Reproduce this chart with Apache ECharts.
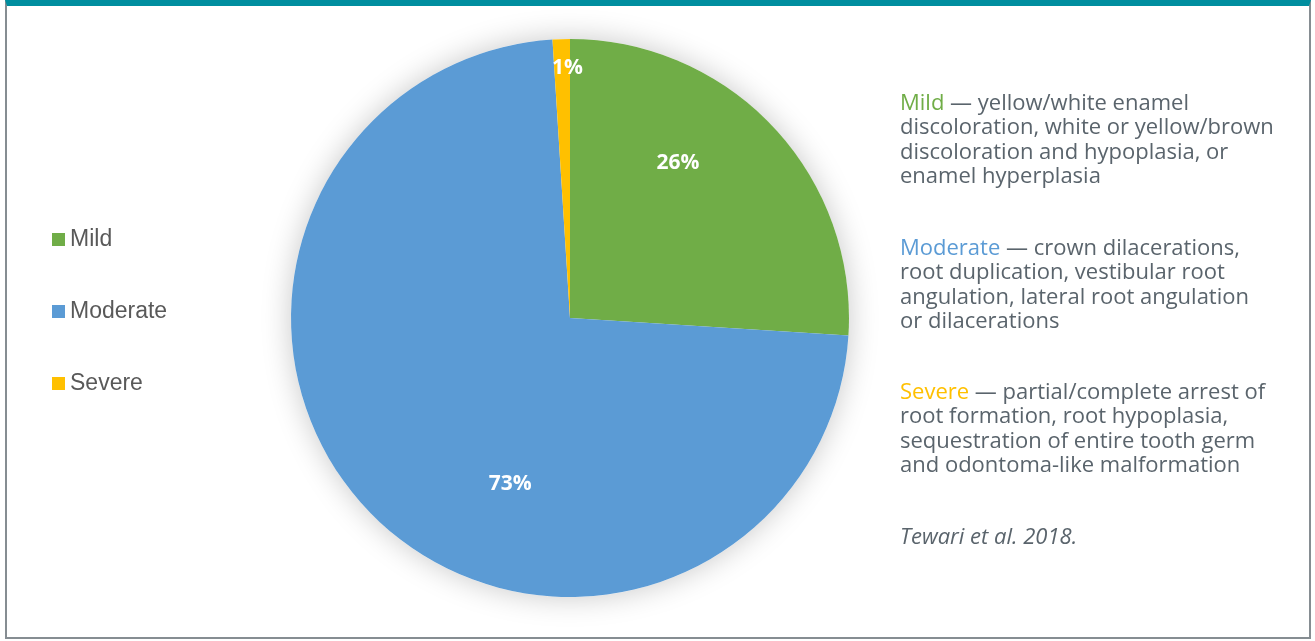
<!DOCTYPE html>
<html>
<head>
<meta charset="utf-8">
<script src="https://cdn.jsdelivr.net/npm/echarts@6/dist/echarts.min.js"></script>
<style>
  html, body { margin: 0; padding: 0; background: #fff; }
  #frame {
    position: absolute; left: 5px; top: 0; width: 1306px; height: 639px;
    border-left: 2px solid #868d92; border-right: 2px solid #868d92; border-bottom: 2px solid #868d92;
    border-top: 6px solid #008e9f; box-sizing: border-box;
  }
  #chart { position: absolute; left: 0; top: 0; width: 1315px; height: 641px; }
</style>
</head>
<body>
<div id="frame"></div>
<div id="chart"></div>
<script>
(function() {
  var categories = ['Mild', 'Moderate', 'Severe'];
  var shares = [26, 73, 1];
  var colors = ['#70ad47', '#5b9bd5', '#ffc000'];
  var notes = [
    '\u2014 yellow/white enamel\ndiscoloration, white or yellow/brown\ndiscoloration and hypoplasia, or\nenamel hyperplasia',
    '\u2014 crown dilacerations,\nroot duplication, vestibular root\nangulation, lateral root angulation\nor dilacerations',
    '\u2014 partial/complete arrest of\nroot formation, root hypoplasia,\nsequestration of entire tooth germ\nand odontoma-like malformation'
  ];
  var source = 'Tewari et al. 2018.';

  // label nudges from the default "inside" spot
  var labelShift = [[4, -57], [41, 65], [2, -108]];
  var noteTops = [91, 236, 380];

  var textColor = '#5a646c';
  var noteFont = '"Open Sans", Lato, sans-serif';

  var chart = echarts.init(document.getElementById('chart'), null, { renderer: 'canvas' });

  var graphics = categories.map(function(name, i) {
    return {
      type: 'text', left: 900, top: noteTops[i], silent: true,
      style: {
        text: '{h|' + name + '} ' + notes[i],
        rich: {
          h: { fill: colors[i], font: '22px ' + noteFont, lineHeight: 24.5 }
        },
        fill: textColor, font: '22px ' + noteFont, lineHeight: 24.5
      }
    };
  });
  graphics.push({
    type: 'text', left: 900, top: 527, silent: true,
    style: { text: source, fill: textColor, font: 'italic 22px ' + noteFont }
  });

  chart.setOption({
    animation: false,
    color: colors,
    legend: {
      orient: 'vertical', left: 47, top: 223, itemGap: 49,
      itemWidth: 13, itemHeight: 13, icon: 'rect',
      textStyle: { color: '#595959', fontSize: 23, fontFamily: '"Liberation Sans", "Noto Sans", sans-serif' },
      data: categories
    },
    graphic: graphics,
    series: [{
      type: 'pie', silent: true, z: 1,
      center: [570, 318], radius: 279,
      label: { show: false }, labelLine: { show: false },
      itemStyle: { color: '#fff', shadowBlur: 30, shadowColor: 'rgba(0,0,0,0.22)' },
      data: [{ value: 1, name: '_bg' }]
    }, {
      type: 'pie', z: 2,
      center: [570, 318], radius: 279,
      startAngle: 90, clockwise: true,
      label: {
        show: true, position: 'inside', formatter: '{d}%',
        color: '#fff', fontWeight: 'bold', fontSize: 21,
        fontFamily: '"Open Sans", "Noto Sans", sans-serif'
      },
      labelLine: { show: false },
      labelLayout: function(p) {
        var s = labelShift[p.dataIndex];
        return { dx: s[0], dy: s[1] };
      },
      data: categories.map(function(name, i) {
        return { name: name, value: shares[i] };
      })
    }]
  });
  window.addEventListener('resize', function() { chart.resize(); });
})();
</script>
</body>
</html>
